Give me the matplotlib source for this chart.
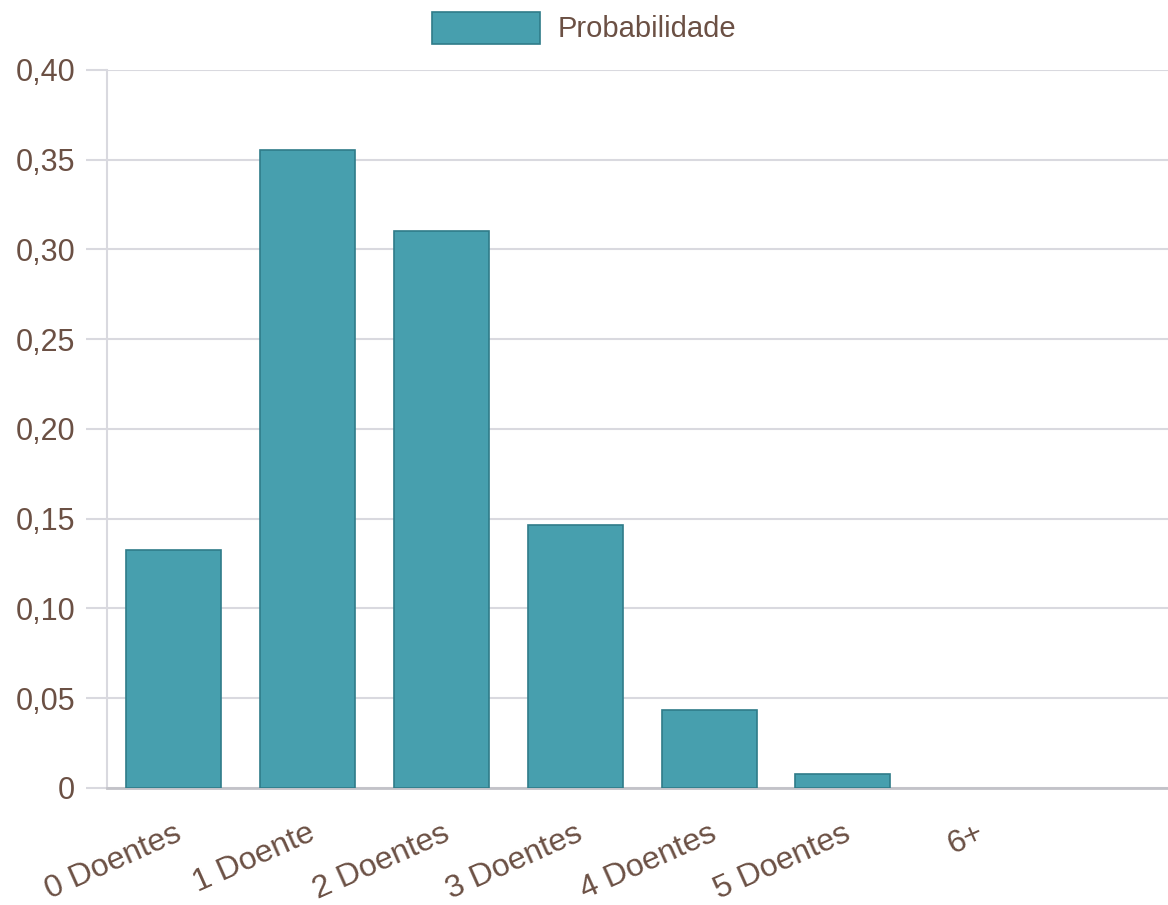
import matplotlib.pyplot as plt
from matplotlib.ticker import FuncFormatter

# Probabilidade de número de doentes
categorias = ["0 Doentes", "1 Doente", "2 Doentes", "3 Doentes", "4 Doentes", "5 Doentes", "6+"]
probabilidade = [0.1326, 0.3554, 0.3103, 0.1465, 0.0435, 0.0078, 0.0]

cor_texto = "#6b5044"
cor_barra = "#479fae"
cor_borda = "#2f7c89"
cor_grade = "#d9d9df"

plt.rcParams['font.family'] = ['Liberation Sans', 'DejaVu Sans']

fig = plt.figure(figsize=(11.68, 9.05), dpi=100)
ax = fig.add_axes([0.0916, 0.1293, 0.9084, 0.7934])

x = list(range(len(categorias)))
ax.bar(x, probabilidade, width=0.71, color=cor_barra, edgecolor=cor_borda,
       linewidth=[1.2 if v > 0 else 0 for v in probabilidade],
       label="Probabilidade", zorder=3)

ax.set_xlim(-0.5, 7.43)
ax.set_ylim(0, 0.40)
ax.set_yticks([i * 0.05 for i in range(9)])
ax.yaxis.set_major_formatter(FuncFormatter(
    lambda v, p: "0" if abs(v) < 1e-9 else f"{v:.2f}".replace(".", ",")))

ax.set_xticks(x)
ax.set_xticklabels(categorias, rotation=24, ha="right", rotation_mode="anchor")

ax.grid(axis="y", color=cor_grade, linewidth=1.5, zorder=0)
for lado in ["top", "right"]:
    ax.spines[lado].set_visible(False)
ax.spines["left"].set_color(cor_grade)
ax.spines["left"].set_linewidth(1.5)
ax.spines["bottom"].set_color("#c2c2c8")
ax.spines["bottom"].set_linewidth(2)

ax.tick_params(axis="y", length=15, color=cor_grade, width=1.5, pad=8,
               labelsize=22, labelcolor=cor_texto)
ax.tick_params(axis="x", length=0, pad=22, labelsize=23, labelcolor=cor_texto)

leg = fig.legend(loc="upper center", bbox_to_anchor=(0.5, 1.016), frameon=False,
                 fontsize=21, labelcolor=cor_texto, handlelength=3.7,
                 handleheight=1.3, handletextpad=0.6)

fig.savefig("out.png", dpi=100)
